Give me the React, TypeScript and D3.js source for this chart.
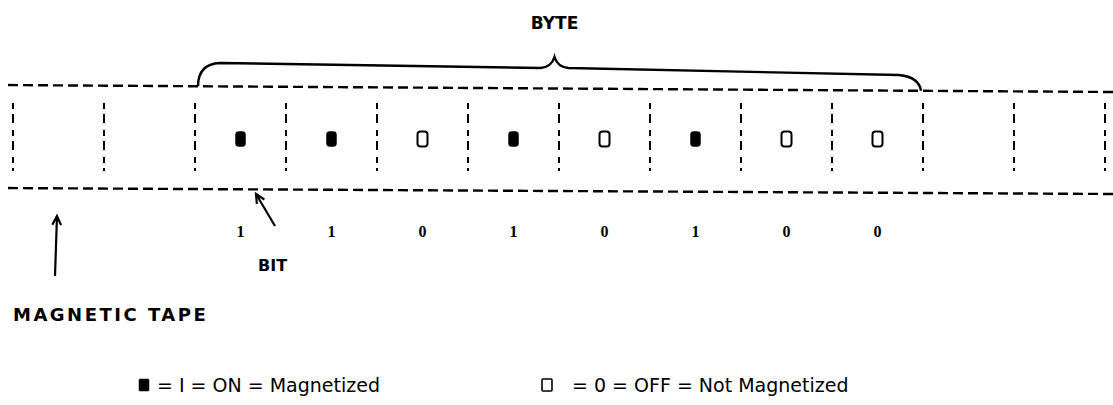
import React, { useRef, useEffect } from 'react';
import * as d3 from 'd3';

// bits stored in the byte (cells 2..9 of the tape)
const bitValues = [1, 1, 0, 1, 0, 1, 0, 0];
const bitLabels = ['1', '1', '0', '1', '0', '1', '0', '0'];
const separatorIndex = d3.range(0, 13);
const byteStart = 2;
const legendItems = [
  { filled: true, text: '= I = ON = Magnetized' },
  { filled: false, text: '= 0 = OFF = Not Magnetized' },
];

const W = 1113;
const H = 405;

const App: React.FC = () => {
  const ref = useRef<SVGSVGElement>(null);

  useEffect(() => {
    const svg = d3.select(ref.current);
    svg.selectAll('*').remove();

    const x = d3.scaleLinear().domain([0, 12]).range([13, 1105]);
    // tape is slightly skewed in the scan
    const topY = d3.scaleLinear().domain([0, W]).range([85, 92]);
    const botY = d3.scaleLinear().domain([0, W]).range([188, 194]);
    const midY = 139;
    const sans = 'DejaVu Sans, Verdana, sans-serif';

    const g = svg.append('g');

    // tape edges
    [topY, botY].forEach((yy) => {
      g.append('line')
        .attr('x1', 8)
        .attr('x2', W)
        .attr('y1', yy(8))
        .attr('y2', yy(W))
        .attr('stroke', '#000')
        .attr('stroke-width', 2.4)
        .attr('stroke-dasharray', '10,5');
    });

    // cell separators
    g.selectAll('line.sep')
      .data(separatorIndex)
      .enter()
      .append('line')
      .attr('class', 'sep')
      .attr('x1', (d) => x(d))
      .attr('x2', (d) => x(d))
      .attr('y1', 103)
      .attr('y2', 171)
      .attr('stroke', '#000')
      .attr('stroke-width', 2)
      .attr('stroke-dasharray', '6,5,9,7');

    // bit marks
    const cx = (i: number) => x(byteStart + i + 0.5);
    g.selectAll('rect.bit')
      .data(bitValues)
      .enter()
      .append('rect')
      .attr('class', 'bit')
      .attr('x', (d, i) => cx(i) - 5)
      .attr('y', midY - 7.5)
      .attr('width', 10)
      .attr('height', 15)
      .attr('rx', 3)
      .attr('fill', (d) => (d ? '#000' : 'none'))
      .attr('stroke', '#000')
      .attr('stroke-width', (d) => (d ? 0.5 : 2));

    // digits under the tape
    g.selectAll('text.digit')
      .data(bitLabels)
      .enter()
      .append('text')
      .attr('class', 'digit')
      .attr('x', (d, i) => cx(i))
      .attr('y', 237)
      .attr('text-anchor', 'middle')
      .attr('font-family', 'Liberation Serif, serif')
      .attr('font-size', 16)
      .attr('font-weight', 'bold')
      .text((d) => d);

    // byte brace
    const bx0 = x(byteStart) + 3;
    const bx1 = x(byteStart + bitValues.length) - 2;
    const bm = (bx0 + bx1) / 2 - 5;
    const p = d3.path();
    p.moveTo(bx0, topY(bx0));
    p.quadraticCurveTo(bx0, 64, bx0 + 22, 63);
    p.lineTo(bm - 14, 68);
    p.quadraticCurveTo(bm - 3, 67, bm, 57);
    p.quadraticCurveTo(bm + 3, 67, bm + 14, 68);
    p.lineTo(bx1 - 22, 75);
    p.quadraticCurveTo(bx1 - 2, 77, bx1, topY(bx1));
    g.append('path')
      .attr('d', p.toString())
      .attr('fill', 'none')
      .attr('stroke', '#000')
      .attr('stroke-width', 2.4);

    g.append('text')
      .attr('x', bm)
      .attr('y', 29)
      .attr('text-anchor', 'middle')
      .attr('font-family', sans)
      .attr('font-size', 17)
      .attr('font-weight', 'bold')
      .text('BYTE');

    // arrows
    const arrow = (x1: number, y1: number, x2: number, y2: number) => {
      g.append('line')
        .attr('x1', x1)
        .attr('y1', y1)
        .attr('x2', x2)
        .attr('y2', y2)
        .attr('stroke', '#000')
        .attr('stroke-width', 2.2);
      const a = Math.atan2(y2 - y1, x2 - x1);
      const head = d3.path();
      head.moveTo(x2 - 10 * Math.cos(a - 0.45), y2 - 10 * Math.sin(a - 0.45));
      head.lineTo(x2, y2);
      head.lineTo(x2 - 10 * Math.cos(a + 0.45), y2 - 10 * Math.sin(a + 0.45));
      g.append('path')
        .attr('d', head.toString())
        .attr('fill', 'none')
        .attr('stroke', '#000')
        .attr('stroke-width', 2.2);
    };
    arrow(275, 226, 256, 194);
    arrow(55, 276, 57, 216);

    g.append('text')
      .attr('x', 258)
      .attr('y', 271)
      .attr('font-family', sans)
      .attr('font-size', 16)
      .attr('font-weight', 'bold')
      .text('BIT');

    g.append('text')
      .attr('x', 13)
      .attr('y', 321)
      .attr('font-family', sans)
      .attr('font-size', 18)
      .attr('font-weight', 'bold')
      .attr('letter-spacing', 2.5)
      .text('MAGNETIC TAPE');

    // legend
    const lx = [139, 542];
    const leg = g
      .selectAll('g.leg')
      .data(legendItems)
      .enter()
      .append('g')
      .attr('class', 'leg')
      .attr('transform', (d, i) => `translate(${lx[i]},385)`);
    leg
      .append('rect')
      .attr('x', 0)
      .attr('y', -6)
      .attr('width', 10)
      .attr('height', 12)
      .attr('rx', 1)
      .attr('fill', (d) => (d.filled ? '#000' : 'none'))
      .attr('stroke', '#000')
      .attr('stroke-width', (d) => (d.filled ? 0.5 : 1.6));
    leg
      .append('text')
      .attr('x', (d) => (d.filled ? 18 : 30))
      .attr('y', 7)
      .attr('font-family', sans)
      .attr('font-size', 19)
      .text((d) => d.text);
  }, []);

  return (
    <svg
      ref={ref}
      width={W}
      height={H}
      style={{ position: 'absolute', left: 0, top: 0, background: '#fff' }}
    />
  );
};

export default App;
